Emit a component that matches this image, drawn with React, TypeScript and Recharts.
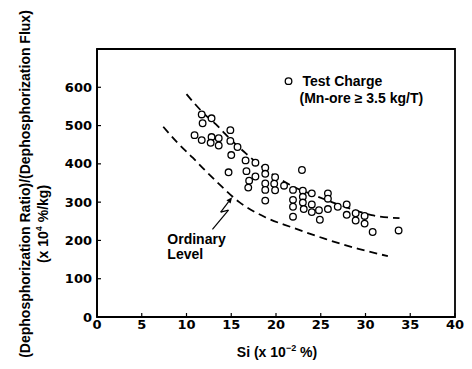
import React from 'react';
import {
  ScatterChart,
  Scatter,
  XAxis,
  YAxis,
  ReferenceArea,
  ReferenceLine,
  ReferenceDot,
} from 'recharts';

// Test charge measurements: Si (x10^-2 %) and ratio/flux values
const siValues = [
  11.7, 11.8, 12.8, 10.9, 11.7, 12.8, 12.7, 13.6, 13.6, 14.9,
  14.9, 15.7, 15.0, 14.7, 16.6, 17.7, 16.7, 17.7, 17.0, 16.9,
  18.8, 18.8, 18.8, 18.8, 18.8, 19.9, 19.8, 19.9, 20.9, 22.9,
  21.9, 23.0, 23.0, 24.0, 25.8, 25.8, 21.9, 21.9, 21.9, 23.0,
  23.1, 24.0, 24.0, 24.8, 24.9, 25.8, 26.9, 27.9, 27.9, 28.9,
  28.9, 29.9, 29.9, 30.8, 33.7,
];
const ratioValues = [
  529, 506, 519, 475, 462, 470, 455, 467, 448, 488,
  460, 444, 423, 378, 409, 403, 381, 367, 356, 338,
  390, 374, 349, 332, 304, 365, 348, 331, 343, 384,
  332, 330, 314, 323, 323, 309, 306, 288, 262, 299,
  282, 294, 274, 279, 254, 282, 288, 294, 267, 271,
  252, 264, 244, 222, 226,
];

// Upper dashed trend through the test charges
const upperSi = [10.0, 11.0, 12.0, 13.3, 14.2, 15.0, 16.6, 18.0, 20.3, 22.0, 24.6, 27.8, 30.7, 33.8];
const upperRatio = [582, 555, 530, 503, 481, 462, 428, 400, 362, 340, 315, 287, 266, 258];

// Lower dashed curve: ordinary level
const lowerSi = [7.4, 9.0, 10.7, 12.0, 13.65, 15.9, 18.85, 21.8, 25.5, 29.2, 32.5];
const lowerRatio = [497, 455, 416, 385, 347, 300, 260, 234, 204, 178, 159];

// Annotation arrow (lightning bolt) pointing at the ordinary level curve
const arrowSi = [12.9, 14.69, 13.82, 15.1];
const arrowRatio = [229, 279, 274, 313];
const ordinaryLabelAt = { si: 7.86, ratio: 191 };
// Legend symbol position (data coords)
const legendAt = { si: 21.4, ratio: 616 };

const xTicks = [0, 5, 10, 15, 20, 25, 30, 35, 40];
const yTicks = [0, 100, 200, 300, 400, 500, 600];

const testData = siValues.map((x, i) => ({ x, y: ratioValues[i] }));
const upperData = upperSi.map((x, i) => ({ x, y: upperRatio[i] }));
const lowerData = lowerSi.map((x, i) => ({ x, y: lowerRatio[i] }));

const FONT = '"Liberation Sans", Arial, Helvetica, sans-serif';
const TICK_FONT = '"DejaVu Sans", "Liberation Sans", sans-serif';

const OpenCircle = (props: any) => {
  const { cx, cy } = props;
  if (cx == null || cy == null) return <g />;
  return <circle cx={cx} cy={cy} r={3.3} fill="#fff" stroke="#000" strokeWidth={1.3} />;
};

const NoShape = () => <g />;

const ArrowHeadLine = (props: any) => {
  const { x1, y1, x2, y2 } = props;
  if ([x1, y1, x2, y2].some((v) => v == null || isNaN(v))) return <g />;
  const ang = Math.atan2(y2 - y1, x2 - x1);
  const len = 6;
  const half = 2.6;
  const bx = x2 - len * Math.cos(ang);
  const by = y2 - len * Math.sin(ang);
  const px = -Math.sin(ang) * half;
  const py = Math.cos(ang) * half;
  return (
    <g>
      <line x1={x1} y1={y1} x2={bx} y2={by} stroke="#000" strokeWidth={1.2} />
      <polygon points={`${x2},${y2} ${bx + px},${by + py} ${bx - px},${by - py}`} fill="#000" />
    </g>
  );
};

const renderYLabel = () => (
  <g>
    <text
      x={30}
      y={184}
      transform="rotate(-90, 30, 184)"
      textAnchor="middle"
      fontFamily={FONT}
      fontWeight="bold"
      fontSize={14}
      fill="#000"
    >
      (Dephosphorization Ratio)/(Dephosphorization Flux)
    </text>
    <text
      x={48}
      y={224}
      transform="rotate(-90, 48, 224)"
      textAnchor="middle"
      fontFamily={FONT}
      fontWeight="bold"
      fontSize={14}
      fill="#000"
    >
      (x 10
      <tspan fontSize={9} dy={-6}>4</tspan>
      <tspan dy={6}> %/kg)</tspan>
    </text>
  </g>
);

const renderXLabel = () => (
  <text
    x={277}
    y={357}
    textAnchor="middle"
    fontFamily={FONT}
    fontWeight="bold"
    fontSize={14}
    fill="#000"
  >
    Si (x 10
    <tspan fontSize={9} dy={-6}>−2</tspan>
    <tspan dy={6}>{'  %)'}</tspan>
  </text>
);

const renderOrdinary = (props: any) => {
  const vb = props.viewBox || {};
  const x = vb.x ?? 0;
  const y = vb.y ?? 0;
  return (
    <text x={x} y={y} fontFamily={FONT} fontWeight="bold" fontSize={14} fill="#000">
      <tspan x={x} dy={0}>Ordinary</tspan>
      <tspan x={x} dy={15}>Level</tspan>
    </text>
  );
};

const renderLegendText = (props: any) => {
  const vb = props.viewBox || {};
  const cx = (vb.x ?? 0) + (vb.width ?? 0) / 2;
  const cy = (vb.y ?? 0) + (vb.height ?? 0) / 2;
  return (
    <text fontFamily={FONT} fontWeight="bold" fontSize={14} fill="#000">
      <tspan x={cx + 14} y={cy + 5}>Test Charge</tspan>
      <tspan x={cx + 11} y={cy + 22}>(Mn-ore ≥ 3.5 kg/T)</tspan>
    </text>
  );
};

export default function App() {
  return (
    <div style={{ width: 472, height: 369, position: 'relative', background: '#fff' }}>
      <style>{'body{margin:0;background:#fff;}'}</style>
      <ScatterChart
        width={472}
        height={369}
        margin={{ top: 49, right: 17, bottom: 0, left: 0 }}
      >
        <XAxis
          type="number"
          dataKey="x"
          domain={[0, 40]}
          ticks={xTicks}
          allowDataOverflow
          height={52}
          tickSize={-4}
          tickMargin={7}
          axisLine={{ stroke: '#000', strokeWidth: 1.8 }}
          tickLine={{ stroke: '#000', strokeWidth: 1.2 }}
          tick={{ fontFamily: TICK_FONT, fontWeight: 'bold', fontSize: 13, fill: '#000' }}
          label={{ content: renderXLabel }}
        />
        <YAxis
          type="number"
          dataKey="y"
          domain={[0, 700]}
          ticks={yTicks}
          allowDataOverflow
          width={97}
          tickSize={-4}
          tickMargin={9}
          axisLine={{ stroke: '#000', strokeWidth: 1.8 }}
          tickLine={{ stroke: '#000', strokeWidth: 1.2 }}
          tick={{ fontFamily: TICK_FONT, fontWeight: 'bold', fontSize: 13, fill: '#000' }}
          label={{ content: renderYLabel }}
        />
        <ReferenceArea
          x1={0}
          x2={40}
          y1={0}
          y2={700}
          fill="none"
          fillOpacity={0}
          stroke="#000"
          strokeWidth={1.8}
          ifOverflow="visible"
        />
        <Scatter
          name="upper"
          data={upperData}
          line={{ stroke: '#000', strokeWidth: 1.8, strokeDasharray: '8 5' }}
          lineJointType="monotoneX"
          shape={NoShape}
          legendType="none"
          isAnimationActive={false}
        />
        <Scatter
          name="Ordinary Level"
          data={lowerData}
          line={{ stroke: '#000', strokeWidth: 1.8, strokeDasharray: '8 5' }}
          lineJointType="monotoneX"
          shape={NoShape}
          legendType="none"
          isAnimationActive={false}
        />
        <Scatter
          name="Test Charge"
          data={testData}
          shape={OpenCircle}
          isAnimationActive={false}
        />
        <ReferenceLine
          segment={[
            { x: arrowSi[0], y: arrowRatio[0] },
            { x: arrowSi[1], y: arrowRatio[1] },
          ]}
          stroke="#000"
          strokeWidth={1.2}
          ifOverflow="visible"
        />
        <ReferenceLine
          segment={[
            { x: arrowSi[1], y: arrowRatio[1] },
            { x: arrowSi[2], y: arrowRatio[2] },
          ]}
          stroke="#000"
          strokeWidth={1.2}
          ifOverflow="visible"
        />
        <ReferenceLine
          segment={[
            { x: arrowSi[2], y: arrowRatio[2] },
            { x: arrowSi[3], y: arrowRatio[3] },
          ]}
          stroke="#000"
          strokeWidth={1.2}
          ifOverflow="visible"
          shape={ArrowHeadLine}
        />
        <ReferenceDot
          x={ordinaryLabelAt.si}
          y={ordinaryLabelAt.ratio}
          r={0}
          fill="none"
          stroke="none"
          ifOverflow="visible"
          label={{ content: renderOrdinary }}
        />
        <ReferenceDot
          x={legendAt.si}
          y={legendAt.ratio}
          r={3.3}
          fill="#fff"
          stroke="#000"
          strokeWidth={1.3}
          ifOverflow="visible"
          label={{ content: renderLegendText }}
        />
      </ScatterChart>
    </div>
  );
}
